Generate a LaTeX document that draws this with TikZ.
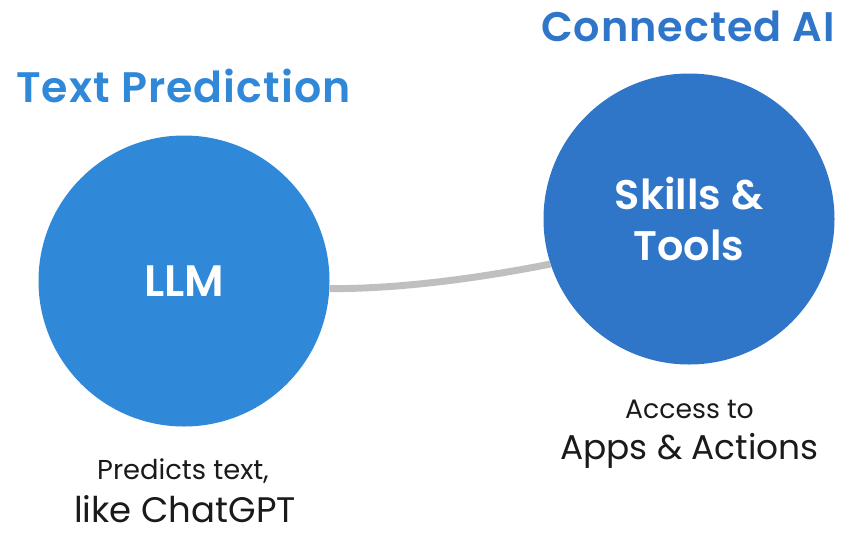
\documentclass[tikz,border=0pt]{standalone}
\usepackage{fontspec}
\setmainfont{Poppins}
\newfontfamily\semifont{Poppins SemiBold}
\newfontfamily\headfont[LetterSpace=2.5]{Poppins SemiBold}
\definecolor{leftblue}{HTML}{2F88D8}
\definecolor{rightblue}{HTML}{3076C8}
\definecolor{linkgrey}{HTML}{BFBFBF}
\definecolor{inkdark}{HTML}{1A1A1A}
\tikzset{
  px/.style={x=0.75pt,y=-0.75pt},
  circ/.style={circle,inner sep=0pt,minimum size=218.25pt,text=white,font=\fontsize{31}{39}\semifont,align=center},
  head/.style={anchor=center,font=\fontsize{31}{36}\headfont},
  small/.style={text=inkdark,font=\fontsize{20.5}{24}\selectfont},
  big/.style={text=inkdark,font=\fontsize{26}{30}\selectfont}
}
\begin{document}
\begin{tikzpicture}[px]
\useasboundingbox (0,0) rectangle (846,533);
\fill[white] (0,0) rectangle (846,533);
\node[circ,fill=leftblue,font=\fontsize{33}{39}\semifont] (llm) at (184,281) {LLM};
\node[circ,fill=rightblue] (skills) at (689,219) {Skills \&\\[-1pt]Tools};
\draw[linkgrey,line width=5.2pt] (llm.-3) .. controls (400,289) and (480,278) .. (skills.198.6);
\node[head,text=leftblue,font=\fontsize{32}{36}\headfont] (t1) at (183.5,86) {Text Prediction};
\node[head,text=rightblue] (t2) at (688,26) {Connected AI};
\node[small] (a) at (183,471) {Predicts text,};
\node[big,font=\fontsize{26.6}{30}\selectfont] (b) at (185,509) {like ChatGPT};
\node[small,font=\fontsize{20}{24}\selectfont] (c) at (689.5,409) {Access to};
\node[big,font=\fontsize{25.8}{30}\selectfont] (d) at (689.5,451) {Apps \& Actions};
\end{tikzpicture}
\end{document}
